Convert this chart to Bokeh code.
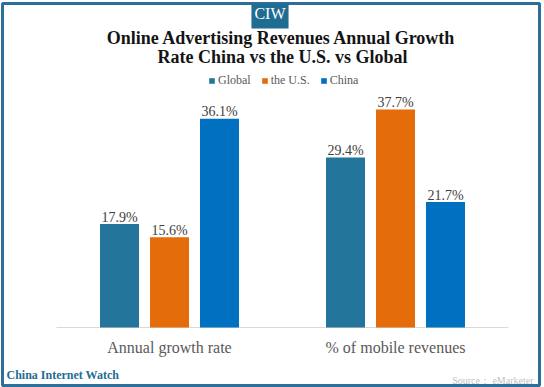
from bokeh.plotting import figure
from bokeh.models import ColumnDataSource, Range1d, Label
from bokeh.transform import dodge
from bokeh.embed import file_html
from bokeh.resources import INLINE

categories = ["Annual growth rate", "% of mobile revenues"]
series_names = ["Global", "the U.S.", "China"]
global_vals = [17.9, 29.4]
us_vals = [15.6, 37.7]
china_vals = [36.1, 21.7]
colors = ["#23759B", "#E46C0A", "#0070C0"]

SERIF = "Liberation Serif"

xs = [i + 0.5 for i in range(len(categories))]
source = ColumnDataSource(dict(
    x=xs, cats=categories,
    g=global_vals, u=us_vals, c=china_vals,
    gl=[f"{v}%" for v in global_vals],
    ul=[f"{v}%" for v in us_vals],
    cl=[f"{v}%" for v in china_vals],
))

W, H = 544, 387
FL, FR, FT, FB = 2, 5, 3, 2          # frame borders (frame outline = chart border)
FW, FH = W - FL - FR, H - FT - FB
PXX = 226.0   # px per category unit
PXY = 5.78    # px per percent
x0 = 0.5 - (169 - FL) / PXX
y0 = -(H - FB - 327) / PXY
p = figure(width=W, height=H, output_backend="svg", toolbar_location=None,
           x_range=Range1d(x0, x0 + FW / PXX),
           y_range=Range1d(y0, y0 + FH / PXY),
           min_border_left=FL, min_border_right=FR, min_border_top=FT, min_border_bottom=FB)
p.outline_line_color = "#2B6F9A"
p.outline_line_width = 3
p.background_fill_color = "white"
p.border_fill_color = "white"
p.xgrid.grid_line_color = None
p.ygrid.grid_line_color = None
p.xaxis.visible = False
p.yaxis.visible = False

# baseline across the category area
p.segment(x0=0, x1=len(categories), y0=0, y1=0, line_color="#D9D9D9", line_width=1)

offsets = [-0.2212, 0.0, 0.2212]
cols = [("g", "gl"), ("u", "ul"), ("c", "cl")]
for (vc, lc), off, col, name in zip(cols, offsets, colors, series_names):
    p.vbar(x=dodge("x", off), top=vc, bottom=0, width=0.1726,
           source=source, fill_color=col, line_color=None, legend_label=name)
    p.text(x=dodge("x", off), y=vc, text=lc, source=source,
           text_align="center", text_baseline="alphabetic", y_offset=-7,
           text_font={"value": SERIF}, text_font_size="14px", text_color="#404040")

# category labels
p.text(x="x", y=0, text="cats", source=source, y_offset=20,
       text_align="center", text_baseline="middle",
       text_font={"value": SERIF}, text_font_size="16px", text_color="#595959")

lg = p.legend[0]
lg.orientation = "horizontal"
lg.location = (206, 297)
lg.background_fill_alpha = 0
lg.border_line_color = None
lg.padding = 0
lg.margin = 0
lg.spacing = 10
lg.glyph_width = 7
lg.glyph_height = 7
lg.label_height = 12
lg.label_standoff = 3
lg.label_text_font = SERIF
lg.label_text_font_size = "12px"
lg.label_text_color = "#595959"

def lab(text, X, Y, size, color, style="normal", align="center", bg=None, pad=0):
    kw = {}
    if bg is not None:
        kw = dict(background_fill_color=bg, padding=pad)
    p.add_layout(Label(x=X - FL, y=(H - FB) - Y, x_units="screen", y_units="screen", text=text,
                       text_font=SERIF, text_font_size=size, text_color=color,
                       text_font_style=style, text_align=align,
                       text_baseline="middle", **kw))

lab("CIW", 269.5, 12.5, "16px", "white", bg="#1F6D93",
    pad=dict(left=3, right=3, top=7, bottom=7))
lab("Online Advertising Revenues Annual Growth", 281, 37.5, "18px", "#141414", "bold")
lab("Rate China vs the U.S. vs Global", 282, 56, "18px", "#141414", "bold")
lab("China Internet Watch", 6, 374, "12px", "#1F6D93", "bold", align="left")
lab("Source： eMarketer", 533, 380, "10px", "#BFBFBF", align="right")

open("out.html", "w").write(file_html(p, INLINE))
